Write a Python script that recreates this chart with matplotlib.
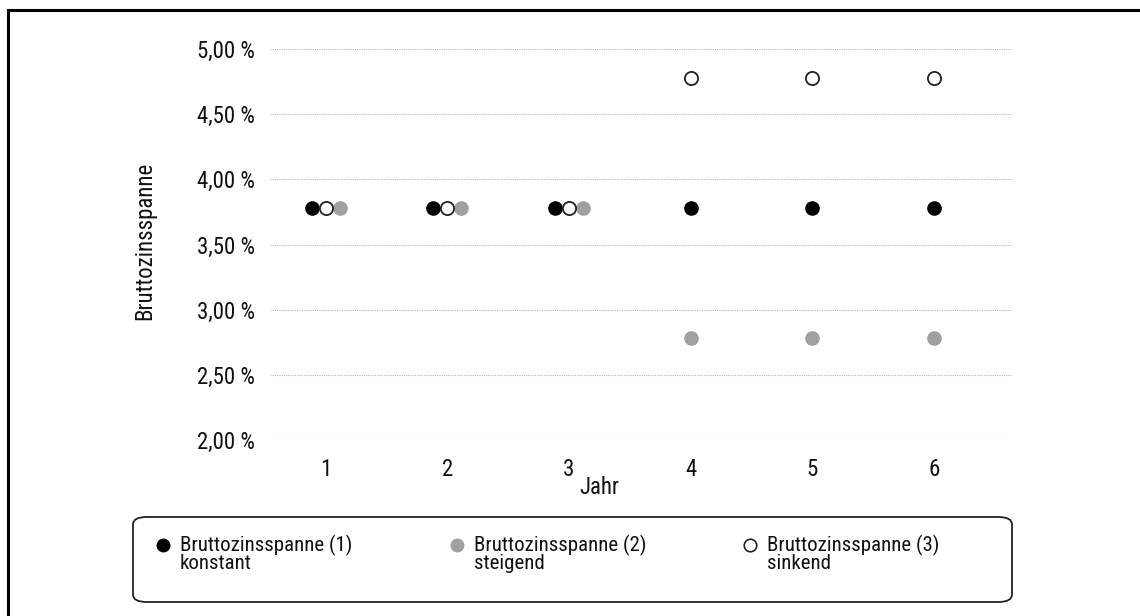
import matplotlib
matplotlib.use('Agg')
import matplotlib.pyplot as plt
from matplotlib.lines import Line2D
from matplotlib.ticker import FuncFormatter

plt.rcParams['font.family'] = ['Roboto Condensed', 'Roboto', 'DejaVu Sans']

years = [1, 2, 3, 4, 5, 6]
# x offsets where the three series overlap (years 1-3)
offset = [0.115, 0.115, 0.115, 0, 0, 0]
spanne_konstant = [3.78, 3.78, 3.78, 3.78, 3.78, 3.78]
spanne_steigend = [3.78, 3.78, 3.78, 2.78, 2.78, 2.78]
spanne_sinkend = [3.78, 3.78, 3.78, 4.78, 4.78, 4.78]
y_ticks = [2.0, 2.5, 3.0, 3.5, 4.0, 4.5, 5.0]
legend_labels = ['Bruttozinsspanne (1)\nkonstant',
                 'Bruttozinsspanne (2)\nsteigend',
                 'Bruttozinsspanne (3)\nsinkend']

W, H = 1140, 616
fig = plt.figure(figsize=(W / 100, H / 100), dpi=100)

# plot area in pixels: left 270, right 1012, top 49, bottom 440
ax = fig.add_axes([270 / W, 1 - 440 / H, (1012 - 270) / W, (440 - 49) / H])

x1 = [x - o for x, o in zip(years, offset)]
x2 = [x + o for x, o in zip(years, offset)]
ms = 9.5
ax.plot(x1, spanne_konstant, 'o', color='black', markersize=ms, zorder=3)
ax.plot(x2, spanne_steigend, 'o', color='#a0a0a0', markersize=ms, zorder=3)
ax.plot(years, spanne_sinkend, 'o', markerfacecolor='white', markeredgecolor='#222',
        markeredgewidth=1.3, markersize=ms, zorder=4)

ax.set_ylim(2.0, 5.0)
ax.set_xlim(0.544, 6.64)
ax.set_yticks(y_ticks)
ax.yaxis.set_major_formatter(FuncFormatter(lambda v, p: f'{v:.2f} %'.replace('.', ',')))
ax.set_xticks(years)
ax.grid(axis='y', color='#b8b8b8', linestyle=(0, (1, 1)), linewidth=0.8)
ax.set_axisbelow(True)
for s in ax.spines.values():
    s.set_visible(False)
ax.tick_params(length=0, labelsize=16.5, colors='#111')
ax.tick_params(axis='y', pad=11)
ax.tick_params(axis='x', pad=13)

fig.text(599 / W, 1 - 488 / H, 'Jahr', ha='center', va='center', fontsize=16.5, color='#111')
fig.text(145 / W, 1 - 241 / H, 'Bruttozinsspanne', ha='center', va='center',
         rotation=90, fontsize=16.5, color='#111')

# legend box
box = matplotlib.patches.FancyBboxPatch(
    (133 / W, 1 - 602 / H), (1012 - 133) / W, (602 - 517) / H,
    boxstyle='round,pad=0,rounding_size=0.012', transform=fig.transFigure,
    facecolor='white', edgecolor='#222', linewidth=1.3)
fig.patches.append(box)

handles = [
    Line2D([], [], marker='o', linestyle='', color='black', markersize=9),
    Line2D([], [], marker='o', linestyle='', color='#a0a0a0', markersize=9),
    Line2D([], [], marker='o', linestyle='', markerfacecolor='white',
           markeredgecolor='#222', markeredgewidth=1.2, markersize=9),
]
mx = [163, 457, 750]
for h, lab, x in zip(handles, legend_labels, mx):
    fig.add_artist(Line2D([x / W], [1 - 545 / H], marker=h.get_marker(),
                          linestyle='', color=h.get_color(),
                          markerfacecolor=h.get_markerfacecolor(),
                          markeredgecolor=h.get_markeredgecolor(),
                          markeredgewidth=h.get_markeredgewidth(),
                          markersize=h.get_markersize(), transform=fig.transFigure))
    fig.text((x + 17) / W, 1 - 535 / H, lab, ha='left', va='top', fontsize=15,
             color='#111', linespacing=0.88)

# outer frame (top and left visible)
fig.add_artist(Line2D([8 / W, 8 / W], [0, 1 - 10 / H], color='black', linewidth=2.2,
                      transform=fig.transFigure))
fig.add_artist(Line2D([8 / W, 1], [1 - 10 / H, 1 - 10 / H], color='black', linewidth=2.2,
                      transform=fig.transFigure))

fig.savefig('out.png', dpi=100, facecolor='white')
